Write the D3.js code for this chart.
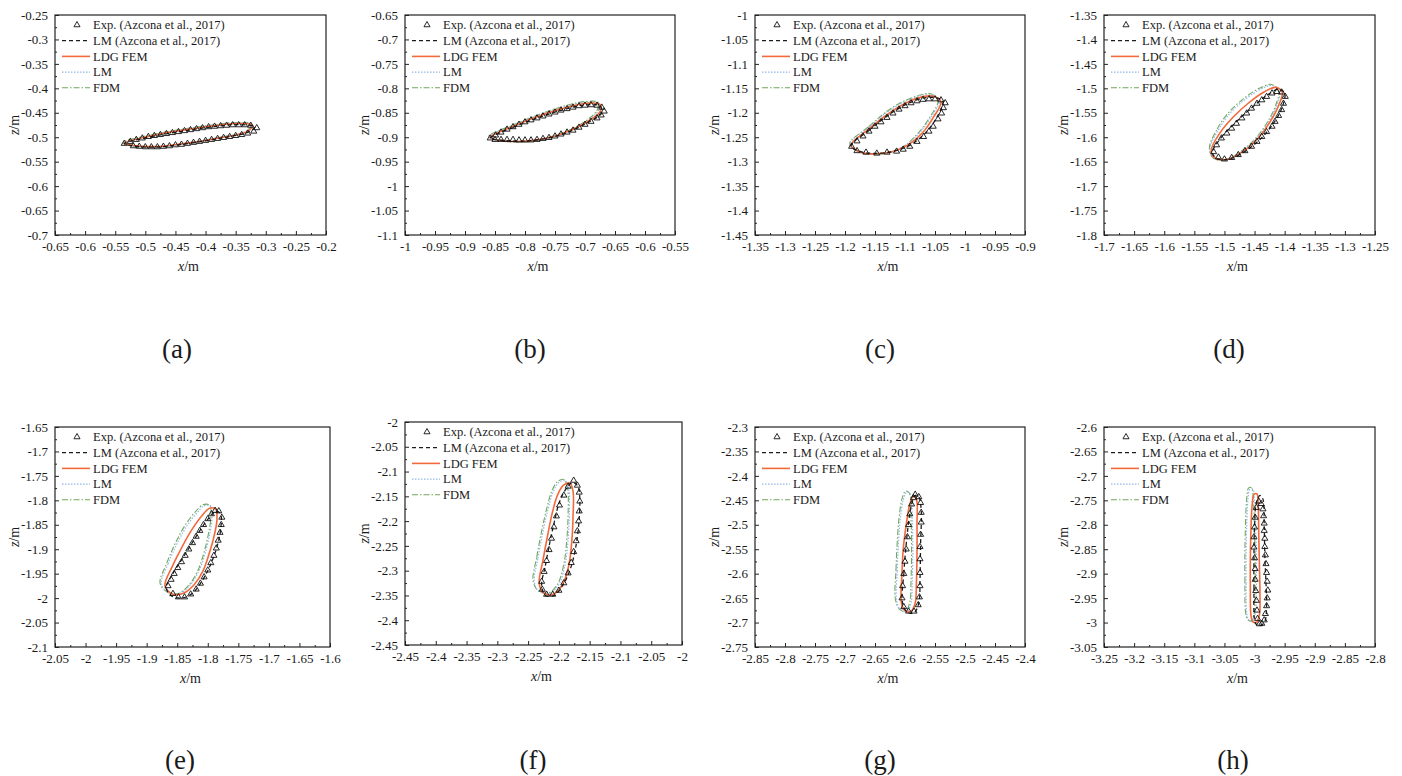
<!DOCTYPE html>
<html>
<head>
<meta charset="utf-8">
<script src="https://cdn.jsdelivr.net/npm/d3@7"></script>
<style>
body { margin: 0; background: #fff; }
svg text { font-family: "Liberation Serif", "Times New Roman", serif; fill: #1a1a1a; }
</style>
</head>
<body>
<svg id="chart" width="1402" height="776"></svg>
<script>

// ---------- data (x, z in metres) ----------
const panelIds = ['a', 'b', 'c', 'd', 'e', 'f', 'g', 'h'];
const xDomains = [[-0.65, -0.2], [-1, -0.55], [-1.35, -0.9], [-1.7, -1.25], [-2.05, -1.6], [-2.45, -2], [-2.85, -2.4], [-3.25, -2.8]];
const zDomains = [[-0.7, -0.25], [-1.1, -0.65], [-1.45, -1], [-1.8, -1.35], [-2.1, -1.65], [-2.45, -2], [-2.75, -2.3], [-3.05, -2.6]];
const seriesNames = ['Exp. (Azcona et al., 2017)', 'LM (Azcona et al., 2017)', 'LDG FEM', 'LM', 'FDM'];

// (a)
const expA = [[-0.535,-0.513],[-0.525,-0.509],[-0.515,-0.505],[-0.505,-0.502],[-0.495,-0.499],[-0.485,-0.497],[-0.475,-0.495],[-0.465,-0.493],[-0.455,-0.491],[-0.445,-0.489],[-0.435,-0.487],[-0.425,-0.485],[-0.415,-0.483],[-0.405,-0.481],[-0.395,-0.479],[-0.385,-0.478],[-0.375,-0.477],[-0.365,-0.476],[-0.355,-0.475],[-0.345,-0.475],[-0.335,-0.475],[-0.325,-0.476],[-0.315,-0.481],
  [-0.32,-0.488],[-0.33,-0.492],[-0.34,-0.495],[-0.35,-0.497],[-0.36,-0.499],[-0.37,-0.501],[-0.38,-0.503],[-0.39,-0.505],[-0.40,-0.507],[-0.41,-0.509],[-0.42,-0.511],[-0.43,-0.513],[-0.44,-0.515],[-0.45,-0.516],[-0.46,-0.518],[-0.47,-0.519],[-0.48,-0.520],[-0.49,-0.520],[-0.50,-0.520],[-0.51,-0.519],[-0.52,-0.518]];
const lmAzA = [[-0.535,-0.513],[-0.49,-0.499],[-0.44,-0.488],[-0.39,-0.479],[-0.345,-0.474],[-0.318,-0.479],[-0.33,-0.490],[-0.38,-0.503],[-0.43,-0.513],[-0.48,-0.520],[-0.52,-0.518]];
const ldgA = [[-0.535,-0.512],[-0.49,-0.497],[-0.44,-0.486],[-0.39,-0.477],[-0.35,-0.472],[-0.322,-0.475],[-0.33,-0.488],[-0.38,-0.502],[-0.43,-0.512],[-0.48,-0.519],[-0.52,-0.517]];
const lmA = [[-0.537,-0.512],[-0.49,-0.496],[-0.44,-0.485],[-0.39,-0.476],[-0.35,-0.471],[-0.325,-0.474],[-0.332,-0.487],[-0.38,-0.501],[-0.43,-0.512],[-0.48,-0.520],[-0.52,-0.518]];
const fdmA = [[-0.537,-0.511],[-0.49,-0.495],[-0.44,-0.484],[-0.39,-0.475],[-0.35,-0.470],[-0.325,-0.473],[-0.33,-0.487],[-0.38,-0.501],[-0.43,-0.512],[-0.48,-0.520],[-0.52,-0.519]];

// (b)
const expB = [[-0.858,-0.902],[-0.849,-0.896],[-0.840,-0.890],[-0.830,-0.884],[-0.820,-0.879],[-0.810,-0.874],[-0.800,-0.869],[-0.790,-0.865],[-0.780,-0.861],[-0.770,-0.857],[-0.760,-0.853],[-0.750,-0.849],[-0.740,-0.845],[-0.730,-0.842],[-0.720,-0.839],[-0.710,-0.836],[-0.700,-0.835],[-0.690,-0.834],[-0.680,-0.835],[-0.672,-0.839],
  [-0.668,-0.847],[-0.673,-0.855],[-0.680,-0.861],[-0.690,-0.868],[-0.700,-0.874],[-0.710,-0.880],[-0.720,-0.886],[-0.730,-0.890],[-0.740,-0.894],[-0.750,-0.898],[-0.760,-0.901],[-0.770,-0.903],[-0.780,-0.905],[-0.790,-0.906],[-0.800,-0.906],[-0.810,-0.906],[-0.820,-0.905],[-0.830,-0.905],[-0.840,-0.905],[-0.850,-0.905]];
const lmAzB = [[-0.858,-0.902],[-0.82,-0.880],[-0.78,-0.861],[-0.74,-0.845],[-0.70,-0.834],[-0.675,-0.836],[-0.672,-0.850],[-0.70,-0.873],[-0.74,-0.895],[-0.79,-0.907],[-0.83,-0.907]];
const ldgB = [[-0.858,-0.900],[-0.82,-0.878],[-0.78,-0.858],[-0.74,-0.842],[-0.70,-0.831],[-0.675,-0.833],[-0.675,-0.848],[-0.70,-0.871],[-0.74,-0.894],[-0.79,-0.907],[-0.83,-0.908]];
const lmB = [[-0.86,-0.899],[-0.82,-0.876],[-0.78,-0.856],[-0.74,-0.840],[-0.70,-0.829],[-0.677,-0.831],[-0.678,-0.846],[-0.70,-0.869],[-0.74,-0.893],[-0.79,-0.908],[-0.83,-0.909]];
const fdmB = [[-0.86,-0.898],[-0.82,-0.875],[-0.78,-0.855],[-0.74,-0.838],[-0.70,-0.827],[-0.678,-0.829],[-0.68,-0.845],[-0.70,-0.868],[-0.74,-0.892],[-0.79,-0.908],[-0.83,-0.909]];

// (c)
const expC = [[-1.189,-1.269],[-1.180,-1.258],[-1.170,-1.248],[-1.160,-1.238],[-1.150,-1.228],[-1.140,-1.219],[-1.130,-1.210],[-1.120,-1.201],[-1.110,-1.193],[-1.100,-1.186],[-1.090,-1.180],[-1.080,-1.176],[-1.070,-1.173],[-1.060,-1.172],[-1.050,-1.172],[-1.040,-1.174],
  [-1.033,-1.180],[-1.036,-1.190],[-1.039,-1.201],[-1.045,-1.213],[-1.053,-1.228],[-1.060,-1.238],[-1.069,-1.249],[-1.080,-1.259],[-1.092,-1.269],[-1.103,-1.275],[-1.114,-1.279],[-1.130,-1.281],[-1.147,-1.283],[-1.165,-1.281],[-1.180,-1.278]];
const lmAzC = [[-1.19,-1.268],[-1.16,-1.236],[-1.13,-1.207],[-1.10,-1.184],[-1.07,-1.170],[-1.05,-1.169],[-1.037,-1.176],[-1.045,-1.205],[-1.065,-1.240],[-1.09,-1.265],[-1.12,-1.279],[-1.15,-1.283],[-1.175,-1.279]];
const ldgC = [[-1.19,-1.266],[-1.16,-1.233],[-1.13,-1.204],[-1.10,-1.181],[-1.07,-1.167],[-1.05,-1.167],[-1.04,-1.178],[-1.052,-1.208],[-1.07,-1.240],[-1.095,-1.266],[-1.12,-1.279],[-1.15,-1.284],[-1.175,-1.280]];
const lmC = [[-1.192,-1.264],[-1.16,-1.229],[-1.13,-1.199],[-1.10,-1.177],[-1.07,-1.164],[-1.055,-1.163],[-1.043,-1.176],[-1.055,-1.206],[-1.075,-1.240],[-1.10,-1.267],[-1.125,-1.280],[-1.15,-1.285],[-1.175,-1.281]];
const fdmC = [[-1.192,-1.263],[-1.16,-1.228],[-1.13,-1.197],[-1.10,-1.175],[-1.07,-1.162],[-1.057,-1.161],[-1.045,-1.175],[-1.057,-1.206],[-1.077,-1.240],[-1.10,-1.267],[-1.125,-1.281],[-1.15,-1.285],[-1.175,-1.281]];

// (d)
const expD = [[-1.518,-1.630],[-1.513,-1.616],[-1.505,-1.602],[-1.496,-1.592],[-1.488,-1.582],[-1.480,-1.572],[-1.471,-1.561],[-1.463,-1.551],[-1.455,-1.541],[-1.446,-1.531],[-1.438,-1.524],[-1.430,-1.517],[-1.421,-1.510],[-1.413,-1.507],[-1.405,-1.508],
  [-1.399,-1.517],[-1.402,-1.531],[-1.405,-1.544],[-1.410,-1.556],[-1.416,-1.568],[-1.421,-1.578],[-1.430,-1.589],[-1.438,-1.599],[-1.446,-1.609],[-1.455,-1.619],[-1.466,-1.628],[-1.477,-1.636],[-1.488,-1.642],[-1.500,-1.645],[-1.510,-1.641]];
const lmAzD = [[-1.520,-1.632],[-1.505,-1.600],[-1.48,-1.568],[-1.455,-1.540],[-1.43,-1.515],[-1.41,-1.502],[-1.400,-1.510],[-1.403,-1.535],[-1.415,-1.565],[-1.435,-1.597],[-1.46,-1.624],[-1.49,-1.644],[-1.51,-1.645]];
const ldgD = [[-1.522,-1.628],[-1.508,-1.592],[-1.485,-1.558],[-1.46,-1.530],[-1.435,-1.508],[-1.415,-1.498],[-1.404,-1.508],[-1.41,-1.535],[-1.425,-1.570],[-1.445,-1.603],[-1.47,-1.630],[-1.495,-1.645],[-1.515,-1.643]];
const lmD = [[-1.524,-1.624],[-1.51,-1.585],[-1.49,-1.550],[-1.465,-1.522],[-1.44,-1.502],[-1.42,-1.494],[-1.408,-1.506],[-1.413,-1.535],[-1.428,-1.572],[-1.45,-1.606],[-1.475,-1.632],[-1.50,-1.646],[-1.518,-1.642]];
const fdmD = [[-1.525,-1.622],[-1.512,-1.583],[-1.492,-1.548],[-1.467,-1.520],[-1.442,-1.500],[-1.422,-1.492],[-1.41,-1.505],[-1.415,-1.535],[-1.43,-1.572],[-1.452,-1.607],[-1.477,-1.633],[-1.50,-1.647],[-1.519,-1.642]];

// (e)
const expE = [[-1.865,-1.975],[-1.860,-1.962],[-1.855,-1.950],[-1.849,-1.938],[-1.843,-1.926],[-1.837,-1.913],[-1.831,-1.900],[-1.825,-1.887],[-1.819,-1.874],[-1.813,-1.862],[-1.807,-1.850],[-1.800,-1.838],[-1.794,-1.828],[-1.788,-1.821],[-1.782,-1.822],
  [-1.777,-1.835],[-1.778,-1.850],[-1.780,-1.866],[-1.783,-1.882],[-1.786,-1.898],[-1.790,-1.913],[-1.795,-1.928],[-1.800,-1.943],[-1.806,-1.957],[-1.812,-1.970],[-1.819,-1.982],[-1.828,-1.992],[-1.838,-1.998],[-1.848,-1.998],[-1.857,-1.991]];
const lmAzE = [[-1.868,-1.978],[-1.857,-1.950],[-1.843,-1.922],[-1.828,-1.892],[-1.813,-1.862],[-1.798,-1.836],[-1.786,-1.822],[-1.779,-1.828],[-1.779,-1.860],[-1.785,-1.895],[-1.795,-1.930],[-1.808,-1.962],[-1.825,-1.990],[-1.843,-2.000],[-1.860,-1.995]];
const ldgE = [[-1.870,-1.975],[-1.858,-1.935],[-1.842,-1.895],[-1.826,-1.860],[-1.810,-1.832],[-1.797,-1.816],[-1.787,-1.818],[-1.785,-1.840],[-1.790,-1.875],[-1.798,-1.910],[-1.808,-1.945],[-1.822,-1.972],[-1.840,-1.990],[-1.857,-1.992]];
const lmE = [[-1.876,-1.972],[-1.865,-1.930],[-1.850,-1.888],[-1.834,-1.852],[-1.818,-1.826],[-1.806,-1.811],[-1.795,-1.812],[-1.793,-1.835],[-1.797,-1.870],[-1.804,-1.907],[-1.814,-1.943],[-1.828,-1.972],[-1.845,-1.990],[-1.862,-1.990]];
const fdmE = [[-1.878,-1.970],[-1.867,-1.928],[-1.852,-1.885],[-1.836,-1.849],[-1.820,-1.823],[-1.808,-1.809],[-1.797,-1.810],[-1.795,-1.834],[-1.799,-1.869],[-1.806,-1.906],[-1.816,-1.943],[-1.830,-1.972],[-1.847,-1.990],[-1.864,-1.989]];

// (f)
const expF = [[-2.176,-2.118],[-2.170,-2.128],[-2.167,-2.142],[-2.166,-2.160],[-2.167,-2.180],[-2.168,-2.200],[-2.170,-2.220],[-2.172,-2.240],[-2.176,-2.262],[-2.180,-2.284],[-2.185,-2.305],[-2.192,-2.325],[-2.200,-2.340],[-2.210,-2.348],[-2.220,-2.348],
  [-2.227,-2.338],[-2.228,-2.322],[-2.224,-2.302],[-2.220,-2.280],[-2.216,-2.258],[-2.212,-2.235],[-2.208,-2.212],[-2.204,-2.190],[-2.199,-2.168],[-2.192,-2.148],[-2.185,-2.130]];
const lmAzF = [[-2.228,-2.330],[-2.222,-2.290],[-2.215,-2.245],[-2.208,-2.205],[-2.200,-2.165],[-2.190,-2.138],[-2.178,-2.122],[-2.169,-2.130],[-2.166,-2.160],[-2.168,-2.210],[-2.173,-2.255],[-2.181,-2.295],[-2.193,-2.328],[-2.208,-2.350],[-2.222,-2.350]];
const ldgF = [[-2.232,-2.325],[-2.226,-2.280],[-2.218,-2.227],[-2.211,-2.185],[-2.203,-2.150],[-2.193,-2.128],[-2.182,-2.123],[-2.177,-2.140],[-2.177,-2.190],[-2.179,-2.240],[-2.184,-2.290],[-2.194,-2.328],[-2.210,-2.348],[-2.225,-2.345]];
const lmF = [[-2.240,-2.322],[-2.234,-2.275],[-2.226,-2.222],[-2.218,-2.178],[-2.210,-2.143],[-2.200,-2.122],[-2.190,-2.118],[-2.184,-2.135],[-2.183,-2.185],[-2.185,-2.237],[-2.190,-2.288],[-2.200,-2.328],[-2.215,-2.346],[-2.232,-2.342]];
const fdmF = [[-2.242,-2.320],[-2.236,-2.273],[-2.228,-2.220],[-2.220,-2.176],[-2.212,-2.141],[-2.202,-2.120],[-2.192,-2.116],[-2.186,-2.133],[-2.185,-2.183],[-2.187,-2.235],[-2.192,-2.287],[-2.202,-2.327],[-2.217,-2.345],[-2.234,-2.340]];

// (g)
const expG = [[-2.583,-2.438],[-2.577,-2.443],[-2.574,-2.455],[-2.573,-2.475],[-2.573,-2.495],[-2.574,-2.520],[-2.575,-2.545],[-2.575,-2.570],[-2.575,-2.598],[-2.575,-2.625],[-2.576,-2.648],[-2.578,-2.664],[-2.585,-2.677],[-2.594,-2.677],
  [-2.602,-2.668],[-2.605,-2.650],[-2.604,-2.625],[-2.602,-2.600],[-2.600,-2.575],[-2.598,-2.550],[-2.596,-2.525],[-2.594,-2.500],[-2.592,-2.478],[-2.589,-2.458],[-2.586,-2.445]];
const lmAzG = [[-2.604,-2.660],[-2.602,-2.600],[-2.598,-2.540],[-2.594,-2.495],[-2.589,-2.458],[-2.583,-2.440],[-2.577,-2.443],[-2.573,-2.470],[-2.574,-2.540],[-2.575,-2.610],[-2.577,-2.660],[-2.585,-2.680],[-2.596,-2.679]];
const ldgG = [[-2.606,-2.660],[-2.605,-2.600],[-2.603,-2.550],[-2.598,-2.500],[-2.592,-2.458],[-2.586,-2.441],[-2.581,-2.447],[-2.580,-2.500],[-2.580,-2.560],[-2.581,-2.620],[-2.583,-2.660],[-2.590,-2.677],[-2.600,-2.676]];
const lmG = [[-2.614,-2.655],[-2.613,-2.595],[-2.611,-2.540],[-2.608,-2.490],[-2.603,-2.450],[-2.597,-2.433],[-2.591,-2.437],[-2.588,-2.490],[-2.587,-2.555],[-2.588,-2.618],[-2.590,-2.660],[-2.597,-2.678],[-2.607,-2.675]];
const fdmG = [[-2.616,-2.652],[-2.615,-2.592],[-2.613,-2.537],[-2.610,-2.487],[-2.605,-2.447],[-2.599,-2.431],[-2.593,-2.435],[-2.590,-2.488],[-2.589,-2.553],[-2.590,-2.616],[-2.592,-2.658],[-2.599,-2.677],[-2.609,-2.673]];

// (h)
const expH = [[-2.993,-2.752],[-2.989,-2.757],[-2.986,-2.768],[-2.985,-2.782],[-2.984,-2.797],[-2.984,-2.812],[-2.983,-2.828],[-2.983,-2.845],[-2.982,-2.862],[-2.981,-2.880],[-2.980,-2.898],[-2.979,-2.916],[-2.978,-2.934],[-2.979,-2.950],[-2.980,-2.966],[-2.982,-2.982],[-2.984,-2.995],[-2.988,-3.002],[-2.992,-3.003],
  [-2.995,-2.992],[-2.996,-2.975],[-2.997,-2.955],[-2.998,-2.935],[-2.999,-2.912],[-2.999,-2.890],[-3.000,-2.868],[-3.001,-2.846],[-3.001,-2.825],[-3.000,-2.805],[-2.999,-2.785],[-2.997,-2.765]];
const lmAzH = [[-3.000,-2.995],[-3.001,-2.930],[-3.001,-2.860],[-3.000,-2.800],[-2.997,-2.755],[-2.991,-2.740],[-2.986,-2.748],[-2.984,-2.800],[-2.983,-2.860],[-2.981,-2.920],[-2.980,-2.965],[-2.983,-2.998],[-2.990,-3.006],[-2.997,-3.004]];
const ldgH = [[-3.006,-2.985],[-3.007,-2.930],[-3.007,-2.870],[-3.006,-2.810],[-3.004,-2.760],[-3.001,-2.738],[-2.996,-2.737],[-2.994,-2.760],[-2.993,-2.820],[-2.992,-2.880],[-2.991,-2.940],[-2.992,-2.985],[-2.997,-3.000],[-3.003,-2.998]];
const lmH = [[-3.013,-2.980],[-3.014,-2.920],[-3.014,-2.860],[-3.013,-2.800],[-3.011,-2.748],[-3.008,-2.728],[-3.003,-2.727],[-3.000,-2.750],[-2.998,-2.815],[-2.997,-2.880],[-2.997,-2.940],[-2.999,-2.984],[-3.004,-2.998],[-3.010,-2.994]];
const fdmH = [[-3.015,-2.978],[-3.016,-2.918],[-3.016,-2.858],[-3.015,-2.798],[-3.013,-2.746],[-3.010,-2.725],[-3.005,-2.724],[-3.002,-2.748],[-3.000,-2.813],[-2.999,-2.878],[-2.999,-2.938],[-3.001,-2.983],[-3.006,-2.997],[-3.012,-2.993]];

const expData = [expA, expB, expC, expD, expE, expF, expG, expH];
const lmAzData = [lmAzA, lmAzB, lmAzC, lmAzD, lmAzE, lmAzF, lmAzG, lmAzH];
const ldgData = [ldgA, ldgB, ldgC, ldgD, ldgE, ldgF, ldgG, ldgH];
const lmData = [lmA, lmB, lmC, lmD, lmE, lmF, lmG, lmH];
const fdmData = [fdmA, fdmB, fdmC, fdmD, fdmE, fdmF, fdmG, fdmH];

// ---------- layout ----------
const boxes = [
  {l: 55, r: 326, t: 15, b: 235, lx: 177, ly: 358},
  {l: 405, r: 675, t: 15, b: 235, lx: 530, ly: 358},
  {l: 755, r: 1025, t: 15, b: 235, lx: 880, ly: 358},
  {l: 1104, r: 1375, t: 15, b: 235, lx: 1229, ly: 358},
  {l: 55, r: 330, t: 427, b: 647, lx: 180, ly: 769},
  {l: 405, r: 682, t: 422, b: 645, lx: 533, ly: 769},
  {l: 755, r: 1025, t: 427, b: 647, lx: 880, ly: 769},
  {l: 1104, r: 1375, t: 427, b: 647, lx: 1233, ly: 769}
];

// line styles, in legend order
const styles = [
  null,
  {color: '#1c1c1c', width: 1.3, dash: '4,3'},
  {color: '#f26a3c', width: 1.6, dash: null},
  {color: '#93b9e6', width: 1.2, dash: '1.5,1.5'},
  {color: '#6fa85a', width: 1.1, dash: '6,2,1.5,2'}
];

const fmt = d => String(+d.toFixed(2));

const svg = d3.select('#chart');
svg.append('rect').attr('width', 1402).attr('height', 776).attr('fill', '#fff');

panelIds.forEach((id, i) => {
  const box = boxes[i];
  const xd = xDomains[i], zd = zDomains[i];

  let xScale = d3.scaleLinear().domain(xd).range([box.l, box.r]);
  let zScale = d3.scaleLinear().domain(zd).range([box.b, box.t]);

  const majX = d3.range(10).map(k => +(xd[0] + k * 0.05).toFixed(3));
  const majZ = d3.range(10).map(k => +(zd[0] + k * 0.05).toFixed(3));
  const minX = d3.range(9).map(k => xd[0] + 0.025 + k * 0.05);
  const minZ = d3.range(9).map(k => zd[0] + 0.025 + k * 0.05);

  let g = svg.append('g').attr('class', 'panel panel-' + id);

  // bottom axis, ticks pointing inwards
  g.append('g')
    .attr('transform', 'translate(0,' + box.b + ')')
    .call(d3.axisBottom(xScale).tickValues(majX).tickSize(-4).tickPadding(7).tickFormat(fmt))
    .call(a => a.select('.domain').remove())
    .selectAll('text').style('font-size', '13px');
  g.append('g')
    .attr('transform', 'translate(0,' + box.b + ')')
    .call(d3.axisBottom(xScale).tickValues(minX).tickSize(-2).tickFormat(''))
    .call(a => a.select('.domain').remove());

  // left axis
  g.append('g')
    .attr('transform', 'translate(' + box.l + ',0)')
    .call(d3.axisLeft(zScale).tickValues(majZ).tickSize(-4).tickPadding(7).tickFormat(fmt))
    .call(a => a.select('.domain').remove())
    .selectAll('text').style('font-size', '13px');
  g.append('g')
    .attr('transform', 'translate(' + box.l + ',0)')
    .call(d3.axisLeft(zScale).tickValues(minZ).tickSize(-2).tickFormat(''))
    .call(a => a.select('.domain').remove());

  g.selectAll('.tick line').attr('stroke', '#222');
  g.selectAll('.tick text').attr('fill', '#1a1a1a').style('font-family', '"Liberation Serif", serif');

  // frame
  g.append('rect')
    .attr('x', box.l).attr('y', box.t)
    .attr('width', box.r - box.l).attr('height', box.b - box.t)
    .attr('fill', 'none').attr('stroke', '#222').attr('stroke-width', 1.2);

  // axis titles
  let xt = g.append('text')
    .attr('x', (box.l + box.r) / 2 - 2).attr('y', box.b + 36)
    .attr('text-anchor', 'middle').style('font-size', '14px');
  xt.append('tspan').style('font-style', 'italic').text('x');
  xt.append('tspan').text('/m');

  let zt = g.append('text')
    .attr('transform', 'translate(' + (box.l - 36) + ',' + ((box.t + box.b) / 2) + ') rotate(-90)')
    .attr('text-anchor', 'middle').style('font-size', '14px');
  zt.append('tspan').style('font-style', 'italic').text('z');
  zt.append('tspan').text('/m');

  // panel label
  g.append('text')
    .attr('x', box.lx).attr('y', box.ly)
    .attr('text-anchor', 'middle').style('font-size', '27px')
    .text('(' + id + ')');

  // curves
  const line = d3.line()
    .x(d => xScale(d[0]))
    .y(d => zScale(d[1]))
    .curve(d3.curveCatmullRomClosed.alpha(0.5));

  const plot = g.append('g');
  [[fdmData[i], 4], [lmData[i], 3], [ldgData[i], 2], [lmAzData[i], 1]].forEach(([pts, s]) => {
    plot.append('path')
      .datum(pts)
      .attr('d', line)
      .attr('fill', 'none')
      .attr('stroke', styles[s].color)
      .attr('stroke-width', styles[s].width)
      .attr('stroke-dasharray', styles[s].dash);
  });

  const tri = d3.symbol().type(d3.symbolTriangle).size(16);
  plot.selectAll('.exp-dot')
    .data(expData[i])
    .enter().append('path')
    .attr('class', 'exp-dot')
    .attr('d', tri)
    .attr('transform', d => 'translate(' + xScale(d[0]) + ',' + zScale(d[1]) + ')')
    .attr('fill', 'none')
    .attr('stroke', '#111')
    .attr('stroke-width', 0.9);

  // legend
  const leg = g.append('g').attr('transform', 'translate(' + box.l + ',' + box.t + ')');
  seriesNames.forEach((name, k) => {
    const y = 10 + k * 15.7;
    if (k === 0) {
      leg.append('path').attr('d', tri)
        .attr('transform', 'translate(22,' + y + ')')
        .attr('fill', 'none').attr('stroke', '#111').attr('stroke-width', 0.9);
    } else {
      leg.append('line')
        .attr('x1', 7).attr('x2', 35).attr('y1', y).attr('y2', y)
        .attr('stroke', styles[k].color)
        .attr('stroke-width', styles[k].width)
        .attr('stroke-dasharray', styles[k].dash);
    }
    leg.append('text')
      .attr('x', 38).attr('y', y).attr('dy', '0.35em')
      .style('font-size', '12.5px')
      .text(name);
  });
});
</script>
</body>
</html>
